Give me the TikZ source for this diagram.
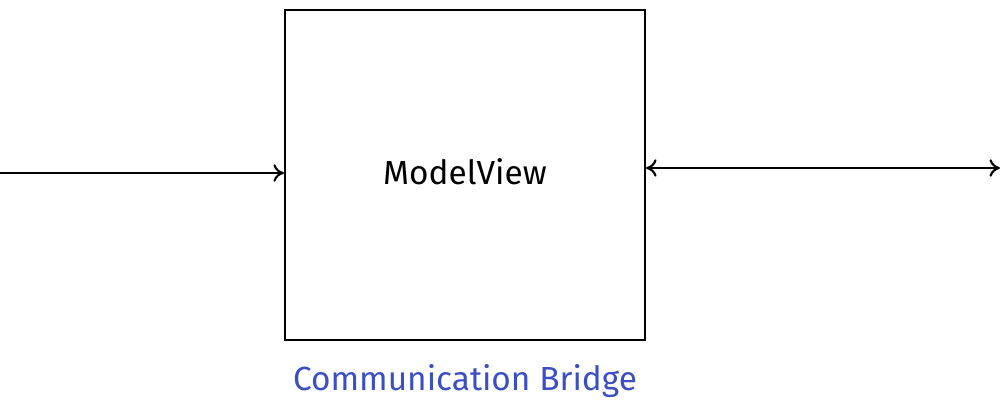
\documentclass[tikz,border=0pt]{standalone}
\usepackage{fontspec}
\setmainfont{Fira Sans}
\usetikzlibrary{positioning,arrows.meta}
\begin{document}
\begin{tikzpicture}[scale=1]
    \definecolor{bridge}{RGB}{59,79,196}
    \tikzset{sketch/.style={line width=1.2pt, black, >={To[length=6pt,width=10pt]}}}

    \useasboundingbox (0,0) rectangle (20,8.4);

    \node[sketch, draw, minimum width=7.2cm, minimum height=6.6cm, inner sep=0] (model) at (9.3,4.9) {};
    \node[font=\fontsize{19}{22}\selectfont] (label) at (9.3,4.96) {ModelView};
    \node[font=\fontsize{19}{22}\selectfont, text=bridge, below=0.35cm of model] (bridge) {Communication Bridge};

    \coordinate (in) at (0,4.94);
    \coordinate (out) at (20,5.04);

    \draw[sketch,->] (in) -- (in -| model.west);
    \draw[sketch,<->] (out -| model.east) -- (out);

\end{tikzpicture}
\end{document}
